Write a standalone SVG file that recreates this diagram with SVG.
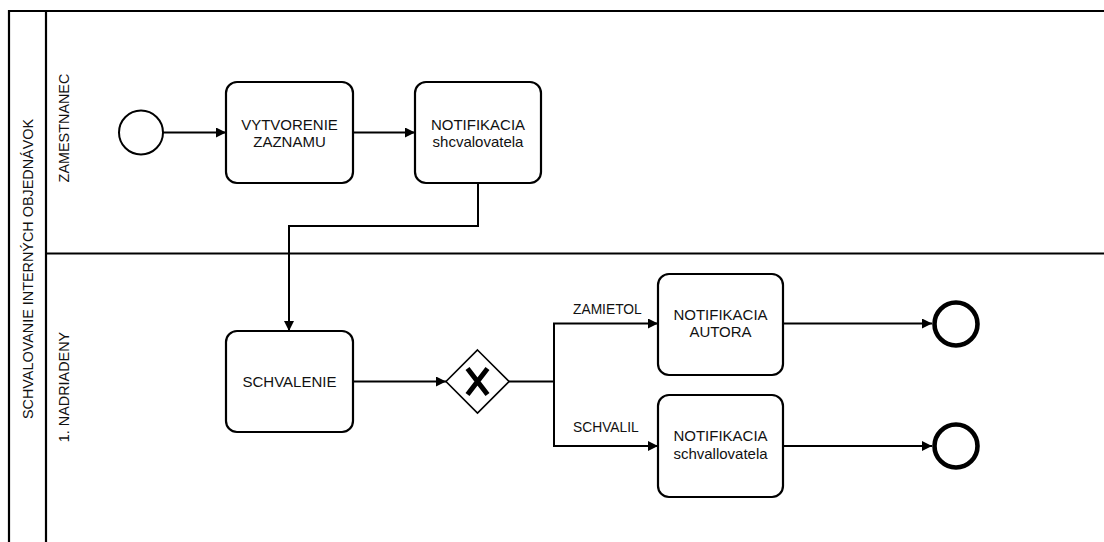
<svg xmlns="http://www.w3.org/2000/svg" width="1104" height="542" viewBox="0 0 1104 542">
  <style>
    .pool { fill: none; stroke: #000; stroke-width: 2.2; }
    .task { fill: #fff; stroke: #000; stroke-width: 2.2; }
    .start { fill: #fff; stroke: #000; stroke-width: 2; }
    .end { fill: #fff; stroke: #000; stroke-width: 4.6; }
    .gw { fill: #fff; stroke: #000; stroke-width: 1.6; }
    .gwx { stroke: #000; stroke-width: 5; stroke-linecap: butt; }
    .flow { fill: none; stroke: #000; stroke-width: 2; }
    text { font-family: "Liberation Sans", Arial, sans-serif; font-size: 14.4px; fill: #111; }
    .c { text-anchor: middle; }
    .t { font-size: 15px; }
    .lbl { font-size: 13.8px; }
  </style>
  <defs>
    <marker id="arrow" viewBox="0 0 10 10" refX="10" refY="5" markerWidth="10" markerHeight="10" markerUnits="userSpaceOnUse" orient="auto">
      <path d="M0,0 L10,5 L0,10 Z" fill="#000"/>
    </marker>
  </defs>

  <rect width="1104" height="542" fill="#fff"/>

  <!-- pool with two lanes -->
  <g id="pool">
    <path class="pool" d="M1110,11 H9 V550 M46,11 V550 M46,253.5 H1110"/>
    <text class="c" transform="translate(33,269) rotate(-90)">SCHVALOVANIE INTERNÝCH OBJEDNÁVOK</text>
  </g>
  <g id="lane-zamestnanec">
    <text class="c" transform="translate(68.5,128) rotate(-90)">ZAMESTNANEC</text>
  </g>
  <g id="lane-nadriadeny">
    <text class="c" transform="translate(68.5,387) rotate(-90)">1. NADRIADENY</text>
  </g>

  <!-- sequence flows -->
  <g id="connectors">
    <path class="flow" d="M163,132.5 H226" marker-end="url(#arrow)"/>
    <path class="flow" d="M353,132.5 H415" marker-end="url(#arrow)"/>
    <path class="flow" d="M478,183 V226 H289 V331" marker-end="url(#arrow)"/>
    <path class="flow" d="M353,381.5 H446" marker-end="url(#arrow)"/>
    <path class="flow" d="M509,381.5 H554 V323.5 H658" marker-end="url(#arrow)"/>
    <path class="flow" d="M554,381.5 V446 H658" marker-end="url(#arrow)"/>
    <path class="flow" d="M783,323.5 H932" marker-end="url(#arrow)"/>
    <path class="flow" d="M783,446 H932" marker-end="url(#arrow)"/>
    <text class="lbl" x="573" y="314">ZAMIETOL</text>
    <text class="lbl" x="573" y="431.5">SCHVALIL</text>
  </g>

  <g id="start">
    <circle class="start" cx="141" cy="132.5" r="22"/>
  </g>

  <g id="vytvorenie-zaznamu">
    <rect class="task" x="226" y="82" width="127" height="101" rx="11"/>
    <text class="c t" x="289.5" y="130">VYTVORENIE</text>
    <text class="c t" x="289.5" y="147">ZAZNAMU</text>
  </g>

  <g id="notifikacia-shcvalovatela">
    <rect class="task" x="415" y="82" width="126" height="101" rx="11"/>
    <text class="c t" x="478" y="130">NOTIFIKACIA</text>
    <text class="c t" x="478" y="147">shcvalovatela</text>
  </g>

  <g id="schvalenie">
    <rect class="task" x="226" y="331" width="127" height="101" rx="11"/>
    <text class="c t" x="289.5" y="386.5">SCHVALENIE</text>
  </g>

  <g id="gateway">
    <path class="gw" d="M477.5,350 L509,381.5 L477.5,413 L446,381.5 Z"/>
    <path class="gwx" d="M467.5,368.5 L487.5,394.5 M487.5,368.5 L467.5,394.5"/>
  </g>

  <g id="notifikacia-autora">
    <rect class="task" x="658" y="274" width="125" height="101" rx="11"/>
    <text class="c t" x="720.5" y="319.5">NOTIFIKACIA</text>
    <text class="c t" x="720.5" y="337">AUTORA</text>
  </g>

  <g id="notifikacia-schvallovatela">
    <rect class="task" x="658" y="395" width="125" height="102" rx="11"/>
    <text class="c t" x="720.5" y="440.5">NOTIFIKACIA</text>
    <text class="c t" x="720.5" y="458.5">schvallovatela</text>
  </g>

  <g id="end-zamietol">
    <circle class="end" cx="956" cy="324" r="21.5"/>
  </g>
  <g id="end-schvalil">
    <circle class="end" cx="956" cy="446" r="21.5"/>
  </g>
</svg>
